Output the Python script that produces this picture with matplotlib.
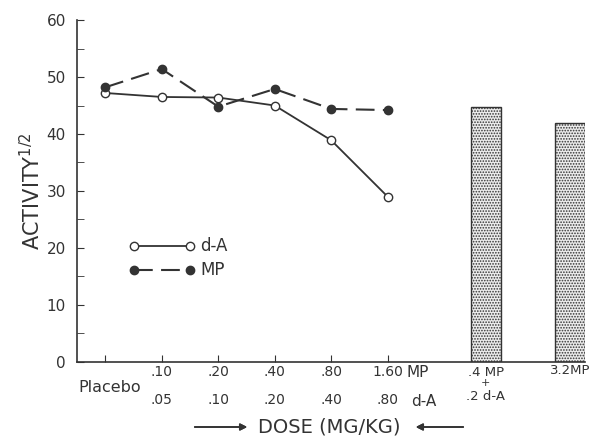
import matplotlib.pyplot as plt
from matplotlib.transforms import blended_transform_factory

# dose positions (categorical) and readings
positions = [1, 2, 3, 4, 5, 6]
da_values = [47.2, 46.5, 46.4, 45.0, 38.9, 29.0]
mp_values = [48.2, 51.4, 44.8, 47.9, 44.4, 44.2]

mp_labels = ["", ".10", ".20", ".40", ".80", "1.60"]
da_labels = ["", ".05", ".10", ".20", ".40", ".80"]

bar_positions = [7.74, 9.23]
bar_values = [44.7, 41.9]

INK = "#333333"
plt.rcParams["hatch.color"] = "#777777"
plt.rcParams["hatch.linewidth"] = 0.8

fig = plt.figure(figsize=(5.93, 4.36), dpi=100)
ax = fig.add_axes([0.130, 0.170, 0.857, 0.784])

ax.plot(positions, da_values, color=INK, linewidth=1.3, marker="o",
        markersize=6, markerfacecolor="white", markeredgecolor=INK,
        markeredgewidth=1.0, zorder=3)
ax.plot(positions, mp_values, color=INK, linewidth=1.5, dashes=(9, 4),
        marker="o", markersize=6, markerfacecolor=INK, markeredgecolor=INK,
        zorder=3)

ax.bar(bar_positions, bar_values, width=0.53, facecolor="#ececec",
       edgecolor=INK, linewidth=1.0, hatch="......", zorder=2)

ax.set_xlim(0.5, 9.5)
ax.set_ylim(0, 60)

for side in ("top", "right"):
    ax.spines[side].set_visible(False)
for side in ("left", "bottom"):
    ax.spines[side].set_color(INK)
    ax.spines[side].set_linewidth(1.2)

ax.set_yticks(range(0, 61, 10))
ax.set_yticks(range(5, 60, 10), minor=True)
ax.tick_params(axis="y", which="both", direction="in", length=5,
               color=INK, labelcolor=INK, labelsize=11, pad=8)
ax.set_xticks(positions)
ax.set_xticklabels([])
ax.tick_params(axis="x", direction="in", length=5, color=INK)

# two-row dose labels under the axis
trans = blended_transform_factory(ax.transData, fig.transFigure)
row_mp = 1 - 372 / 436
row_da = 1 - 400 / 436
for x, mp, da in zip(positions, mp_labels, da_labels):
    ax.text(x, row_mp, mp, transform=trans, ha="center", va="center",
            fontsize=10, color=INK)
    ax.text(x, row_da, da, transform=trans, ha="center", va="center",
            fontsize=10, color=INK)
ax.text(positions[-1] + 0.34, row_mp, "MP", transform=trans, ha="left",
        va="center", fontsize=11, color=INK)
ax.text(positions[-1] + 0.42, row_da - 0.004, "d-A", transform=trans,
        ha="left", va="center", fontsize=11, color=INK)
ax.text(positions[0] + 0.07, 1 - 387 / 436, "Placebo", transform=trans,
        ha="center", va="center", fontsize=11.5, color=INK)

ax.text(bar_positions[0], 1 - 372 / 436, ".4 MP", transform=trans,
        ha="center", va="center", fontsize=9.5, color=INK)
ax.text(bar_positions[0], 1 - 383 / 436, "+", transform=trans,
        ha="center", va="center", fontsize=8, color=INK)
ax.text(bar_positions[0], 1 - 396 / 436, ".2 d-A", transform=trans,
        ha="center", va="center", fontsize=9.5, color=INK)
ax.text(bar_positions[1], 1 - 371 / 436, "3.2MP", transform=trans,
        ha="center", va="center", fontsize=9.5, color=INK)

# legend drawn inside the axes
ax.plot([1.5, 2.5], [20.3, 20.3], color=INK, linewidth=1.3, marker="o",
        markersize=6, markerfacecolor="white", markeredgecolor=INK)
ax.plot([1.5, 2.5], [16.1, 16.1], color=INK, linewidth=1.5, dashes=(9, 4),
        marker="o", markersize=6, markerfacecolor=INK, markeredgecolor=INK)
ax.text(2.68, 20.3, "d-A", ha="left", va="center", fontsize=12, color=INK)
ax.text(2.68, 16.1, "MP", ha="left", va="center", fontsize=12, color=INK)

ax.set_ylabel("ACTIVITY$^{1/2}$", fontsize=15, color=INK, labelpad=2)

# x label with inward arrows
yx = 1 - 427 / 436
fig.text(329 / 593, yx, "DOSE (MG/KG)", ha="center", va="center",
         fontsize=14, color=INK)
fig.add_artist(plt.annotate("", xy=(250 / 593, yx), xytext=(192 / 593, yx),
                            xycoords="figure fraction",
                            arrowprops=dict(arrowstyle="-|>", color=INK, lw=1.2)))
fig.add_artist(plt.annotate("", xy=(413 / 593, yx), xytext=(466 / 593, yx),
                            xycoords="figure fraction",
                            arrowprops=dict(arrowstyle="-|>", color=INK, lw=1.2)))

fig.savefig("out.png", dpi=100)
